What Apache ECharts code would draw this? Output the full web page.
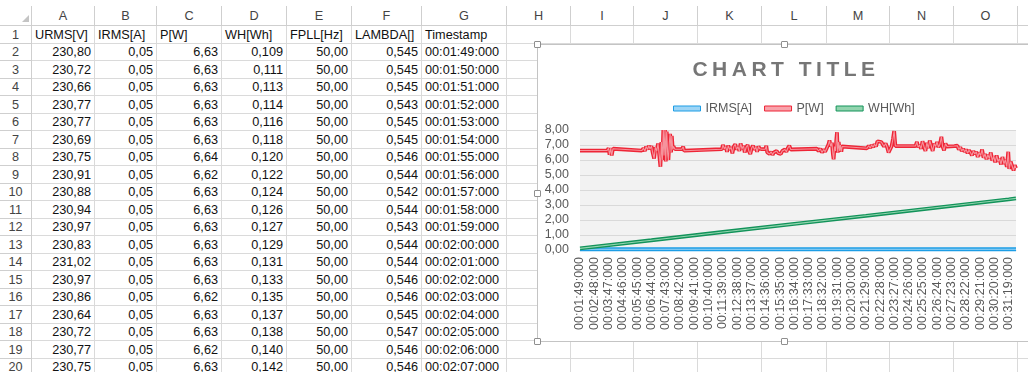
<!DOCTYPE html>
<html>
<head>
<meta charset="utf-8">
<script src="https://cdn.jsdelivr.net/npm/echarts@6/dist/echarts.min.js"></script>
<style>
	html, body { margin: 0; padding: 0; background: #fff; }
	body { width: 1028px; height: 372px; overflow: hidden; position: relative; font-family: 'Liberation Sans', Arial, sans-serif; font-size: 12.7px; color: #111; }
	.cell { position: absolute; box-sizing: border-box; border-right: 1px solid #dadada; border-bottom: 1px solid #dadada; padding: 0 3px; white-space: nowrap; overflow: hidden; }
	.num { text-align: right; }
	.head { color: #444; text-align: center; border-color: #cfcfcf; }
	.corner { position: absolute; left: 22px; top: 15px; width: 0; height: 0; border-left: 7px solid transparent; border-bottom: 7px solid #c4c4c4; }
	#charts { position: absolute; left: 537px; top: 44px; width: 494px; height: 298px; background: #fff; }
	#frame { position: absolute; left: 537px; top: 44px; width: 494px; height: 298px; box-sizing: border-box; border: 1px solid #c4c4c4; pointer-events: none; }
	#title { position: absolute; left: 537px; top: 57px; width: 494px; padding-left: 4px; box-sizing: border-box; text-align: center; font-size: 21px; line-height: 24px; font-weight: bold; letter-spacing: 4.5px; color: #767676; }
	.handle { position: absolute; width: 7px; height: 7px; box-sizing: border-box; border: 1px solid #8f8f8f; border-radius: 1px; background: #fff; }
</style>
</head>
<body>
<div id="sheet"></div>
<div class="corner"></div>
<div id="charts"></div>
<div id="frame"></div>
<div id="title">CHART TITLE</div>
<script>
// spreadsheet contents (rows 2..20)
const headers = ['URMS[V]', 'IRMS[A]', 'P[W]', 'WH[Wh]', 'FPLL[Hz]', 'LAMBDA[]', 'Timestamp']
const urms = [230.80, 230.72, 230.66, 230.77, 230.77, 230.69, 230.75, 230.91, 230.88, 230.94, 230.97, 230.83, 231.02, 230.97, 230.86, 230.64, 230.72, 230.77, 230.75]
const irms = [0.05, 0.05, 0.05, 0.05, 0.05, 0.05, 0.05, 0.05, 0.05, 0.05, 0.05, 0.05, 0.05, 0.05, 0.05, 0.05, 0.05, 0.05, 0.05]
const pw = [6.63, 6.63, 6.63, 6.63, 6.63, 6.63, 6.64, 6.62, 6.63, 6.63, 6.63, 6.63, 6.63, 6.63, 6.62, 6.63, 6.63, 6.62, 6.63]
const wh = [0.109, 0.111, 0.113, 0.114, 0.116, 0.118, 0.120, 0.122, 0.124, 0.126, 0.127, 0.129, 0.131, 0.133, 0.135, 0.137, 0.138, 0.140, 0.142]
const fpll = [50, 50, 50, 50, 50, 50, 50, 50, 50, 50, 50, 50, 50, 50, 50, 50, 50, 50, 50]
const lambda = [0.545, 0.545, 0.545, 0.543, 0.545, 0.545, 0.546, 0.544, 0.542, 0.544, 0.543, 0.544, 0.544, 0.546, 0.546, 0.545, 0.547, 0.546, 0.546]
const stamps = ['00:01:49:000', '00:01:50:000', '00:01:51:000', '00:01:52:000', '00:01:53:000', '00:01:54:000', '00:01:55:000', '00:01:56:000', '00:01:57:000', '00:01:58:000', '00:01:59:000', '00:02:00:000', '00:02:01:000', '00:02:02:000', '00:02:03:000', '00:02:04:000', '00:02:05:000', '00:02:06:000', '00:02:07:000']

// chart: x = seconds after 00:01:49
const xTickLabels = ['00:01:49:000', '00:02:48:000', '00:03:47:000', '00:04:46:000', '00:05:45:000', '00:06:44:000', '00:07:43:000', '00:08:42:000', '00:09:41:000', '00:10:40:000', '00:11:39:000', '00:12:38:000', '00:13:37:000', '00:14:36:000', '00:15:35:000', '00:16:34:000', '00:17:33:000', '00:18:32:000', '00:19:31:000', '00:20:30:000', '00:21:29:000', '00:22:28:000', '00:23:27:000', '00:24:26:000', '00:25:25:000', '00:26:24:000', '00:27:23:000', '00:28:22:000', '00:29:21:000', '00:30:20:000', '00:31:19:000']
const irmsPoints = [[0, 0.05], [590, 0.05], [1180, 0.05], [1800, 0.05]]
const whPoints = [[0, 0.109], [295, 0.65], [590, 1.2], [885, 1.74], [1180, 2.28], [1475, 2.83], [1770, 3.38], [1800, 3.44]]
const pwPoints = [
	[0, 6.63], [60, 6.63], [112, 6.63], [118, 6.78], [122, 6.35], [127, 6.8], [131, 6.3], [136, 6.75], [142, 6.63],
	[255, 6.63], [262, 6.78], [268, 6.6], [273, 6.9], [279, 6.7], [284, 6.95], [289, 6.75], [295, 6.92], [300, 6.5], [306, 6.1],
	[311, 6.85], [317, 6.6], [322, 7.1], [328, 6.2], [332, 5.55], [336, 7.2], [340, 6.0], [344, 8.0], [347, 6.3], [351, 8.0],
	[354, 5.9], [358, 7.9], [362, 6.4], [365, 6.0], [369, 7.2], [372, 7.75], [376, 6.5], [379, 7.6], [383, 6.7], [386, 6.9],
	[392, 6.72], [420, 6.72], [426, 6.88], [430, 6.62], [434, 6.72],
	[586, 6.72], [590, 7.0], [596, 6.75], [601, 6.9], [607, 6.55], [612, 6.95], [618, 6.7], [624, 6.85], [629, 6.45], [635, 6.9],
	[641, 7.05], [646, 6.7], [652, 6.9], [658, 6.6], [663, 7.1], [669, 6.75], [675, 6.95], [680, 6.5], [686, 6.85], [692, 7.0],
	[697, 6.6], [703, 6.4], [709, 6.8], [714, 6.95], [720, 6.7], [726, 6.85], [731, 6.55], [737, 6.9], [742, 6.75], [751, 6.72],
	[765, 6.72], [769, 6.95], [773, 6.5], [778, 6.6], [783, 6.4], [789, 6.55], [795, 6.35], [800, 6.5], [806, 6.4], [812, 6.6],
	[818, 6.45], [823, 6.55], [829, 6.4], [835, 6.6], [841, 6.5], [846, 6.7], [852, 6.55], [858, 6.8], [864, 6.95], [870, 6.7], [876, 6.75],
	[978, 6.75], [985, 6.6], [992, 6.75], [999, 6.5], [1006, 6.7], [1012, 6.55], [1019, 6.8], [1026, 7.05], [1030, 7.3], [1035, 6.9],
	[1040, 7.15], [1044, 6.4], [1047, 6.05], [1051, 6.9], [1055, 6.6], [1058, 7.3], [1061, 7.85], [1064, 6.5], [1068, 7.2], [1072, 6.6],
	[1075, 7.0], [1079, 6.55], [1082, 6.9], [1089, 6.78],
	[1185, 6.78], [1192, 6.95], [1198, 6.8], [1204, 7.0], [1210, 6.85], [1216, 7.05], [1222, 6.9], [1228, 7.25], [1236, 7.28], [1244, 7.2],
	[1250, 7.3], [1255, 6.9], [1262, 7.1], [1268, 6.85], [1274, 6.5], [1280, 6.38], [1286, 6.9], [1292, 7.4], [1297, 7.93], [1302, 6.93],
	[1385, 6.93], [1391, 7.2], [1396, 6.85], [1402, 7.0], [1408, 6.75], [1414, 7.25], [1420, 6.9], [1426, 6.6], [1432, 7.15], [1438, 6.8],
	[1444, 7.3], [1450, 6.95], [1456, 6.6], [1462, 7.1], [1468, 6.9], [1474, 7.2], [1480, 6.85], [1486, 7.05], [1492, 7.55], [1497, 6.9],
	[1503, 6.65], [1509, 7.1], [1515, 6.9], [1523, 6.93],
	[1545, 6.93], [1552, 6.85], [1558, 6.95], [1564, 6.7], [1570, 6.85], [1576, 6.6], [1582, 6.75], [1588, 6.55], [1594, 6.7], [1600, 6.45],
	[1606, 6.65], [1612, 6.5], [1618, 6.3], [1624, 6.6], [1630, 6.4], [1636, 6.55], [1642, 6.2], [1648, 6.5], [1654, 6.3], [1660, 6.7],
	[1666, 6.15], [1672, 6.4], [1678, 6.05], [1684, 6.35], [1690, 6.1], [1696, 6.5], [1702, 5.95], [1708, 6.25], [1714, 5.85], [1720, 6.3],
	[1726, 5.9], [1732, 6.1], [1738, 5.7], [1744, 6.2], [1750, 5.75], [1756, 6.0], [1762, 5.55], [1768, 6.55], [1772, 5.4], [1778, 5.9],
	[1784, 5.6], [1790, 5.3], [1795, 5.65], [1800, 5.45]
]

// sheet layout
const colEdges = [0, 32, 95, 157, 222, 287, 352, 422, 507, 571, 634, 698, 762, 827, 890, 954, 1018, 1082]
const colLetters = ['A', 'B', 'C', 'D', 'E', 'F', 'G', 'H', 'I', 'J', 'K', 'L', 'M', 'N', 'O', 'P']
const headTop = 6
const headBottom = 26
const rowHeight = 17.5

const comma = (v, d) => v.toFixed(d).replace('.', ',')

const buildSheet = () => {
	const sheet = document.getElementById('sheet')
	const add = (cls, x0, x1, y0, y1, text) => {
		const el = document.createElement('div')
		el.className = 'cell ' + cls
		const top = Math.round(y0)
		const h = Math.round(y1) - top
		el.style.left = x0 + 'px'
		el.style.top = top + 'px'
		el.style.width = x1 - x0 + 'px'
		el.style.height = h + 'px'
		el.style.lineHeight = h + 'px'
		el.textContent = text
		sheet.appendChild(el)
	}
	add('head', 0, colEdges[1], headTop, headBottom, '')
	colLetters.forEach((c, i) => add('head', colEdges[i + 1], colEdges[i + 2], headTop, headBottom, c))
	for (let r = 1; r <= 20; r++) {
		const y0 = headBottom + (r - 1) * rowHeight
		const y1 = y0 + rowHeight
		add('head', 0, colEdges[1], y0, y1, String(r))
		let values
		if (r === 1) {
			values = headers.map(h => [h, ''])
		} else {
			const k = r - 2
			values = [
				[comma(urms[k], 2), 'num'],
				[comma(irms[k], 2), 'num'],
				[comma(pw[k], 2), 'num'],
				[comma(wh[k], 3), 'num'],
				[comma(fpll[k], 2), 'num'],
				[comma(lambda[k], 3), 'num'],
				[stamps[k], '']
			]
		}
		colLetters.forEach((c, i) => {
			const v = values[i] || ['', '']
			add(v[1], colEdges[i + 1], colEdges[i + 2], y0, y1, v[0])
		})
	}
	// selection handles of the chart
	const handles = [[537, 44], [784, 44], [537, 193], [537, 341], [784, 341]]
	handles.forEach(([x, y]) => {
		const el = document.createElement('div')
		el.className = 'handle'
		el.style.left = x - 3 + 'px'
		el.style.top = y - 3 + 'px'
		document.body.appendChild(el)
	})
}

buildSheet()

const lineSeries = (name, data, dark, light) => [
	{
		name,
		type: 'line',
		data,
		symbol: 'none',
		silent: true,
		lineStyle: { color: dark, width: 3.8 },
		itemStyle: { color: dark }
	},
	{
		name,
		type: 'line',
		data,
		symbol: 'none',
		silent: true,
		lineStyle: { color: light, width: 1.1 },
		itemStyle: { color: light }
	}
]

const legendItem = (name, dark, light) => ({
	name,
	icon: 'rect',
	itemStyle: { color: light, borderColor: dark, borderWidth: 1 }
})

const chart = echarts.init(document.getElementById('charts'))
chart.setOption({
	animation: false,
	textStyle: { fontFamily: "'Liberation Sans', Arial, sans-serif" },
	legend: {
		left: 131,
		top: 53,
		itemWidth: 27,
		itemHeight: 5,
		itemGap: 12,
		textStyle: { color: '#595959', fontSize: 12.5 },
		data: [
			legendItem('IRMS[A]', '#1c9de5', '#9dd5f6'),
			legendItem('P[W]', '#ee2536', '#f8a3ab'),
			legendItem('WH[Wh]', '#12935a', '#92d4ae')
		]
	},
	grid: {
		left: 43,
		right: 15,
		top: 86,
		height: 120,
		show: true,
		backgroundColor: '#f2f2f2',
		borderWidth: 0
	},
	xAxis: {
		type: 'value',
		min: 0,
		max: 1800,
		interval: 59,
		axisLine: { show: true, lineStyle: { color: '#d9d9d9' } },
		axisTick: { show: false },
		splitLine: { show: false },
		axisLabel: {
			rotate: 90,
			margin: 7,
			color: '#595959',
			fontSize: 12.5,
			showMaxLabel: false,
			formatter: v => (v % 59 === 0 ? xTickLabels[v / 59] || '' : '')
		}
	},
	yAxis: {
		type: 'value',
		min: 0,
		max: 8,
		interval: 1,
		axisLine: { show: false },
		axisTick: { show: false },
		splitLine: { lineStyle: { color: '#d9d9d9' } },
		axisLabel: {
			margin: 11,
			color: '#595959',
			fontSize: 12.5,
			formatter: v => comma(v, 2)
		}
	},
	series: [
		...lineSeries('IRMS[A]', irmsPoints, '#1c9de5', '#9dd5f6'),
		...lineSeries('P[W]', pwPoints, '#ee2536', '#f6939c'),
		...lineSeries('WH[Wh]', whPoints, '#12935a', '#92d4ae')
	]
})
</script>
</body>
</html>
